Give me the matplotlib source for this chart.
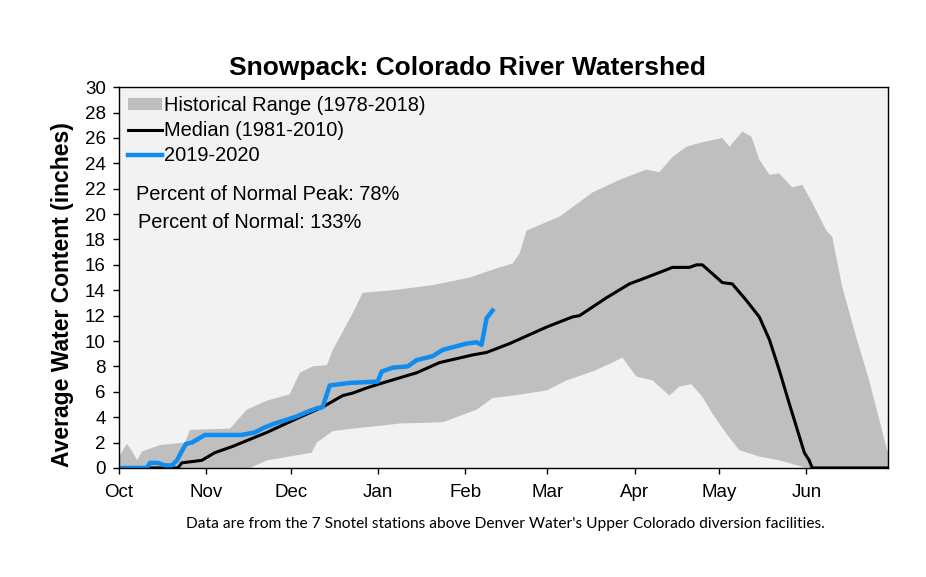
import numpy as np
import matplotlib
matplotlib.use('Agg')
import matplotlib.pyplot as plt
from matplotlib.patches import Patch
from matplotlib.lines import Line2D

plt.rcParams['font.family'] = 'Liberation Sans'

# days since Oct 1 (water year 2019-2020)
monthDays = [0, 31, 61, 92, 123, 152, 183, 213, 244]
monthNames = ['Oct', 'Nov', 'Dec', 'Jan', 'Feb', 'Mar', 'Apr', 'May', 'Jun']

# historical range, upper edge
maxDay = [0, 2.8, 5, 6.4, 8.2, 14.5, 23.4, 25.2, 39.4, 45.4, 52.5, 60.6, 64.2, 68.8,
          73.8, 75.9, 83, 86.5, 97.2, 111.3, 124.5, 135.1, 139.7, 142.2, 144.7, 156.4,
          168.1, 177.7, 187.2, 191.8, 196.5, 201.4, 206, 214.2, 216.7, 221.3, 224.5,
          227.3, 230.9, 234.4, 239, 242.6, 246.1, 251.1, 253.2, 256.7, 261.7, 266.3,
          269.9, 272.3, 273]
maxSwe = [0.9, 1.9, 1.2, 0.6, 1.3, 1.8, 2.0, 3.0, 3.1, 4.6, 5.3, 5.8, 7.5, 8.0,
          8.1, 9.3, 12.2, 13.8, 14.0, 14.4, 15.0, 15.8, 16.1, 16.9, 18.7, 19.8,
          21.7, 22.7, 23.5, 23.3, 24.5, 25.3, 25.6, 26.0, 25.3, 26.5, 26.1,
          24.3, 23.1, 23.2, 22.1, 22.3, 20.9, 18.7, 18.2, 14.3, 10.3, 6.9,
          3.8, 1.7, 1.2]

# historical range, lower edge
minDay = [0, 46.5, 52.5, 60.6, 68.4, 70.2, 75.9, 83, 91.8, 99.6, 114.9, 123.4, 127,
          132.6, 139.7, 151.8, 158.9, 168.1, 175.2, 178.7, 183.7, 189.4, 195.4, 198.9,
          203.2, 207.1, 210.6, 215.6, 220.2, 227.3, 234.4, 244, 273]
minSwe = [0, 0, 0.6, 0.9, 1.2, 2.0, 2.9, 3.1, 3.3, 3.5, 3.6, 4.3, 4.6,
          5.5, 5.7, 6.1, 6.9, 7.6, 8.3, 8.7, 7.2, 6.9, 5.7, 6.4,
          6.6, 5.6, 4.3, 2.7, 1.4, 0.9, 0.6, 0, 0]

# median 1981-2010
medDay = [0, 20.9, 22.3, 29.4, 34, 40.4, 52.5, 64.2, 72.3, 79.4, 83, 87.9, 93.6, 105.7,
          113.8, 125.5, 130.5, 138.7, 151.8, 161, 163.5, 173, 181.2, 187.2, 196.5,
          202.5, 205, 207.1, 214.2, 217.7, 222.7, 227.3, 230.9, 234.4, 237.9, 241.5,
          243.3, 245, 246.1, 273]
medSwe = [0, 0, 0.4, 0.6, 1.2, 1.7, 2.8, 4.0, 4.8, 5.7, 5.9, 6.3, 6.7, 7.5,
          8.3, 8.9, 9.1, 9.8, 11.1, 11.9, 12.0, 13.4, 14.5, 15.0, 15.8,
          15.8, 16.0, 16.0, 14.6, 14.5, 13.2, 11.9, 10.1, 7.7, 5.1, 2.5,
          1.2, 0.6, 0, 0]

# current year 2019-2020
curDay = [0, 9.9, 11, 13.8, 16.3, 18.8, 20.6, 22, 23.8, 25.9, 30.5, 43.6, 48.2, 51.8,
          55.3, 62.4, 66.7, 70.2, 72.3, 74.8, 81.9, 91.8, 93.3, 97.2, 102.5, 105.7,
          111.3, 114.9, 123.4, 127, 128.7, 130.5, 132.6]
curSwe = [0, 0, 0.4, 0.4, 0.2, 0.2, 0.6, 1.2, 1.9, 2.0, 2.6, 2.6, 2.8, 3.2,
          3.5, 4.0, 4.4, 4.7, 4.8, 6.5, 6.7, 6.8, 7.6, 7.9, 8.0, 8.5,
          8.8, 9.3, 9.8, 9.9, 9.7, 11.8, 12.4]

blue = '#0f8cf0'
gray = '#bfbfbf'

fig = plt.figure(figsize=(9.26, 5.77), dpi=100)
ax = fig.add_axes([0.1285, 0.189, 0.8305, 0.66])
ax.set_facecolor('#f2f2f2')

ax.fill(maxDay + minDay[::-1], maxSwe + minSwe[::-1], color=gray, lw=0)
ax.plot(medDay, medSwe, color='black', lw=2.2)
ax.plot(curDay, curSwe, color=blue, lw=3.2)

ax.set_xlim(0, 273)
ax.set_ylim(0, 30)
ax.set_yticks(range(0, 31, 2))
ax.set_xticks(monthDays)
ax.set_xticklabels(monthNames)
ax.tick_params(axis='both', direction='out', length=4.5, width=1, labelsize=13.5)
ax.tick_params(axis='x', pad=7)
ax.tick_params(axis='y', pad=5)
for s in ax.spines.values():
    s.set_linewidth(1)
    s.set_color('black')

ax.set_ylabel('Average Water Content (inches)', fontsize=16.5, fontweight='bold')
ax.yaxis.set_label_coords(-0.059, 0.455)

handles = [Patch(facecolor=gray, edgecolor='none'),
           Line2D([], [], color='black', lw=2.2),
           Line2D([], [], color=blue, lw=3.2)]
labels = ['Historical Range (1978-2018)', 'Median (1981-2010)', '2019-2020']
ax.legend(handles, labels, loc='upper left', bbox_to_anchor=(0.0, 1.0), frameon=False,
          fontsize=14.4, handlelength=1.7, handleheight=0.5, handletextpad=0.1,
          labelspacing=0.3, borderaxespad=0.2, borderpad=0.25)

ax.text(0.022, 0.717, 'Percent of Normal Peak: 78%', transform=ax.transAxes,
        fontsize=14.4, va='center')
ax.text(0.025, 0.644, 'Percent of Normal: 133%', transform=ax.transAxes,
        fontsize=14.4, va='center')

fig.text(0.505, 0.882, 'Snowpack: Colorado River Watershed', ha='center', va='center',
         fontsize=19, fontweight='bold')
fig.text(0.546, 0.092, "Data are from the 7 Snotel stations above Denver Water's Upper "
         "Colorado diversion facilities.", ha='center', va='center',
         fontsize=11.2, family='Lato')

fig.savefig('out.png', dpi=100)
